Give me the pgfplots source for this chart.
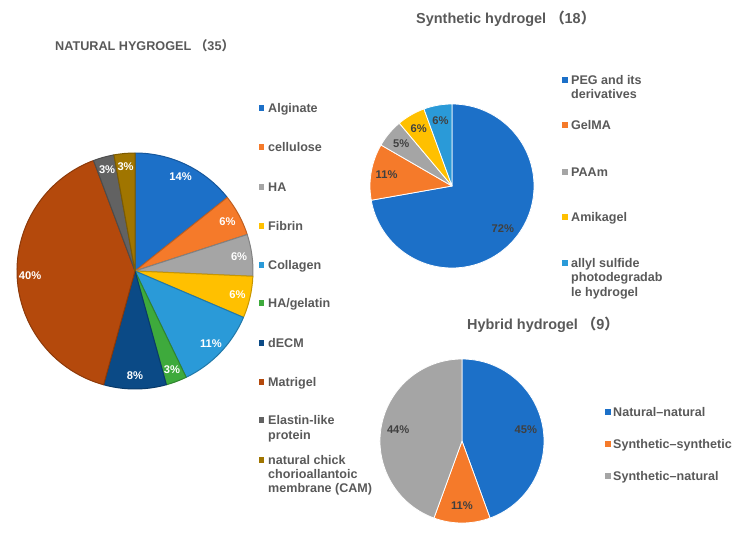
\documentclass[border=0pt]{standalone}
\usepackage{fontspec}
\setmainfont{Liberation Sans}
\newfontfamily\cjk{Noto Sans CJK SC}
\usepackage{pgfplots}
\usepackage{pgfplotstable}
\pgfplotsset{compat=1.18}

\definecolor{txt}{HTML}{595959}
\definecolor{lbl}{HTML}{404040}
\definecolor{cBlue}{HTML}{1C70C8}
\definecolor{cOrange}{HTML}{F57A2A}
\definecolor{cGray}{HTML}{A5A5A5}
\definecolor{cGold}{HTML}{FFC000}
\definecolor{cLBlue}{HTML}{2A9AD8}
\definecolor{cGreen}{HTML}{3EAA3C}
\definecolor{cNavy}{HTML}{0B4A86}
\definecolor{cBrown}{HTML}{B4490C}
\definecolor{cDGray}{HTML}{626262}
\definecolor{cDGold}{HTML}{A07500}

% counts per slice (total = sum), printed percentage, colour
\pgfplotstableread{
count pct col
5  14 cBlue
2  6  cOrange
2  6  cGray
2  6  cGold
4  11 cLBlue
1  3  cGreen
3  8  cNavy
14 40 cBrown
1  3  cDGray
1  3  cDGold
}\naturaltab

\pgfplotstableread{
count pct col
13 72 cBlue
2  11 cOrange
1  5  cGray
1  6  cGold
1  6  cLBlue
}\synthtab

\pgfplotstableread{
count pct col
4 45 cBlue
1 11 cOrange
4 44 cGray
}\hybridtab

\tikzset{
  edgeA/.style={draw=\slicecol!78!black, line width=1pt, line join=round},
  edgeB/.style={draw=white, line width=0.8pt, line join=round},
}

\newcommand\lgfont{\fontsize{12.6}{14.5}\selectfont\bfseries}
\newcommand\pcfont{\fontsize{11.2}{13}\selectfont\bfseries}

% #1 table, #2 cx, #3 cy, #4 radius (bp), #5 total, #6 label radius factor, #7 label colour, #8 edge style
\newcommand\drawpie[8]{%
  \pgfplotstablegetrowsof{#1}%
  \pgfmathtruncatemacro\lastrow{\pgfplotsretval-1}%
  \xdef\cum{0}%
  \foreach \i in {0,...,\lastrow}{%
    \pgfplotstablegetelem{\i}{count}\of#1\let\sv\pgfplotsretval
    \pgfplotstablegetelem{\i}{col}\of#1\let\slicecol\pgfplotsretval
    \pgfmathsetmacro\aa{90-360*\cum/#5}%
    \pgfmathsetmacro\ab{90-360*(\cum+\sv)/#5}%
    \fill[fill=\slicecol, #8] (axis cs:#2,#3) -- ++(\aa:#4bp)
      arc[start angle=\aa, end angle=\ab, radius=#4bp] -- cycle;
    \pgfmathsetmacro\newcum{\cum+\sv}%
    \xdef\cum{\newcum}%
  }%
  \xdef\cum{0}%
  \foreach \i in {0,...,\lastrow}{%
    \pgfplotstablegetelem{\i}{count}\of#1\let\sv\pgfplotsretval
    \pgfplotstablegetelem{\i}{pct}\of#1\let\sp\pgfplotsretval
    \pgfmathsetmacro\am{90-360*(\cum+\sv/2)/#5}%
    \pgfmathsetmacro\lr{#6*#4}%
    \path (axis cs:#2,#3) ++(\am:\lr bp) node[font=\pcfont, text=#7, inner sep=0pt] {\sp\%};
    \pgfmathsetmacro\newcum{\cum+\sv}%
    \xdef\cum{\newcum}%
  }%
}

% legend square at (#1,#2) in colour #3
\newcommand\legsq[3]{\fill[#3] (axis cs:#1,#2) ++(-2.8bp,-2.8bp) rectangle ++(5.6bp,5.6bp);}
% legend text line, left at #1, visual centre at #2
\newcommand\legtxt[3]{\node[anchor=base west, inner sep=0pt, font=\lgfont, text=txt] at (axis cs:#1,#2+4.5) {#3};}

\begin{document}
\begin{tikzpicture}
\begin{axis}[
  scale only axis,
  width=734bp, height=538bp,
  xmin=0, xmax=734, ymin=0, ymax=538,
  y dir=reverse,
  hide axis,
  clip=false,
]
\pgfplotsextra{
  \path (axis cs:0,0) rectangle (axis cs:734,538);
  \drawpie{\naturaltab}{135}{271}{118}{35}{0.89}{white}{edgeA}
  \drawpie{\synthtab}{452}{186}{82}{18}{0.81}{lbl}{edgeB}
  \drawpie{\hybridtab}{462}{441}{82}{9}{0.79}{lbl}{edgeB}
}

% titles
\node[anchor=base west, inner sep=0pt, font=\fontsize{12.7}{15}\selectfont\bfseries, text=txt]
  at (axis cs:55,50.5) {NATURAL HYGROGEL\ {\cjk （}35{\cjk ）}};
\node[anchor=base west, inner sep=0pt, font=\fontsize{14.5}{17}\selectfont\bfseries, text=txt]
  at (axis cs:416,24) {Synthetic hydrogel {\cjk （}18{\cjk ）}};
\node[anchor=base west, inner sep=0pt, font=\fontsize{14.5}{17}\selectfont\bfseries, text=txt]
  at (axis cs:467,329) {Hybrid hydrogel {\cjk （}9{\cjk ）}};

% legend: natural
\legsq{261.5}{108}{cBlue}   \legtxt{268}{108}{Alginate}
\legsq{261.5}{147}{cOrange} \legtxt{268}{147}{cellulose}
\legsq{261.5}{187}{cGray}   \legtxt{268}{187}{HA}
\legsq{261.5}{226}{cGold}   \legtxt{268}{226}{Fibrin}
\legsq{261.5}{265}{cLBlue}  \legtxt{268}{265}{Collagen}
\legsq{261.5}{303}{cGreen}  \legtxt{268}{303}{HA/gelatin}
\legsq{261.5}{343}{cNavy}   \legtxt{268}{343}{dECM}
\legsq{261.5}{382}{cBrown}  \legtxt{268}{382}{Matrigel}
\legsq{261.5}{420}{cDGray}  \legtxt{268}{420}{Elastin-like}
                            \legtxt{268}{435}{protein}
\legsq{261.5}{460}{cDGold}  \legtxt{268}{460}{natural chick}
                            \legtxt{268}{474}{chorioallantoic}
                            \legtxt{268}{488}{membrane (CAM)}

% legend: synthetic
\legsq{565}{80}{cBlue}    \legtxt{571}{80}{PEG and its}
                          \legtxt{571}{94}{derivatives}
\legsq{565}{125}{cOrange} \legtxt{571}{125}{GelMA}
\legsq{565}{172}{cGray}   \legtxt{571}{172}{PAAm}
\legsq{565}{217}{cGold}   \legtxt{571}{217}{Amikagel}
\legsq{565}{263}{cLBlue}  \legtxt{571}{263}{allyl sulfide}
                          \legtxt{571}{277}{photodegradab}
                          \legtxt{571}{292}{le hydrogel}

% legend: hybrid
\legsq{608}{412}{cBlue}   \legtxt{613}{412}{Natural–natural}
\legsq{608}{444}{cOrange} \legtxt{613}{444}{Synthetic–synthetic}
\legsq{608}{476}{cGray}   \legtxt{613}{476}{Synthetic–natural}
\end{axis}
\end{tikzpicture}
\end{document}
